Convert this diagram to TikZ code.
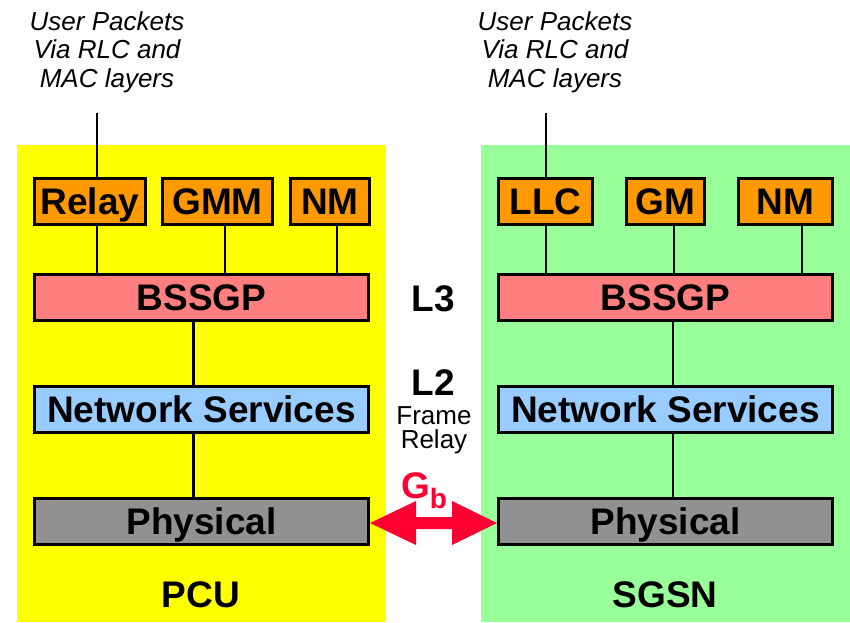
\documentclass[tikz,border=0pt]{standalone}
\usepackage{fontspec}
\setmainfont{Liberation Sans}
\definecolor{pcuyellow}{HTML}{FFFF00}
\definecolor{sgsngreen}{HTML}{99FF99}
\definecolor{apporange}{HTML}{FF9900}
\definecolor{bsspink}{HTML}{FF7F7F}
\definecolor{nsblue}{HTML}{99CCFF}
\definecolor{phygray}{HTML}{919191}
\definecolor{gbred}{HTML}{FF0033}
\newcommand\lblfont{\fontsize{37}{40}\selectfont\bfseries}
\newcommand\notefont{\fontsize{26}{28.5}\selectfont\itshape}
\begin{document}
\begin{tikzpicture}[x=1pt,y=-1pt,
  layerbox/.style={draw, line width=3pt, inner sep=0pt, minimum height=46pt,
    text height=26.5pt, text depth=0pt, font=\lblfont},
  appbox/.style={layerbox, fill=apporange},
  bssbox/.style={layerbox, fill=bsspink, minimum width=334pt},
  nsbox/.style={layerbox, fill=nsblue, minimum width=334pt},
  phybox/.style={layerbox, fill=phygray, minimum width=334pt},
  link/.style={line width=2.6pt},
  note/.style={font=\notefont, align=center, inner sep=0pt},
  plain/.style={inner sep=0pt, anchor=base}]
\useasboundingbox (0,0) rectangle (850,622);

% node backgrounds
\fill[pcuyellow] (17,145) rectangle (386,622);
\fill[sgsngreen] (481,145) rectangle (850,622);

% PCU stack
\node[appbox, minimum width=111pt] (relay) at (90,201.5) {Relay};
\node[appbox, minimum width=110pt] (gmm) at (217.5,201.5) {GMM};
\node[appbox, minimum width=79pt] (nmL) at (330,201.5) {NM};
\node[bssbox] (bssL) at (201.5,297.5) {BSSGP};
\node[nsbox] (nsL) at (201.5,409.5) {Network Services};
\node[phybox] (phyL) at (201.5,521) {Physical};

% SGSN stack
\node[appbox, minimum width=94pt] (llc) at (545.5,201.5) {LLC};
\node[appbox, minimum width=78pt] (gm) at (665.5,201.5) {GM};
\node[appbox, minimum width=94pt] (nmR) at (785.5,201.5) {NM};
\node[bssbox] (bssR) at (665.5,297.5) {BSSGP};
\node[nsbox] (nsR) at (665.5,409.5) {Network Services};
\node[phybox] (phyR) at (665.5,521) {Physical};

% user plane entry points
\coordinate (upL) at (97,113);
\coordinate (upR) at (546,113);
\node[note] (noteL) at (107,52) {User Packets\\Via RLC and\\MAC layers};
\node[note] (noteR) at (555,52) {User Packets\\Via RLC and\\MAC layers};

% attachment points of the connectors
\coordinate (gmmout) at ([xshift=7.5pt]gmm.south);
\coordinate (nmLout) at ([xshift=7pt]nmL.south);
\coordinate (gmout) at ([xshift=8.5pt]gm.south);
\coordinate (nmRout) at ([xshift=16.5pt]nmR.south);

% connectors, PCU side
\draw[link] (upL) -- (upL |- relay.north);
\draw[link] (relay.south -| upL) -- (bssL.north -| upL);
\draw[link] (gmmout) -- (bssL.north -| gmmout);
\draw[link] (nmLout) -- (bssL.north -| nmLout);
\draw[link] ([xshift=-8pt]bssL.south) -- ([xshift=-8pt]nsL.north);
\draw[link] ([xshift=-8pt]nsL.south) -- ([xshift=-8pt]phyL.north);

% connectors, SGSN side
\draw[link] (upR) -- (upR |- llc.north);
\draw[link] (llc.south -| upR) -- (bssR.north -| upR);
\draw[link] (gmout) -- (bssR.north -| gmout);
\draw[link] (nmRout) -- (bssR.north -| nmRout);
\draw[link] ([xshift=7.5pt]bssR.south) -- ([xshift=7.5pt]nsR.north);
\draw[link] ([xshift=7.5pt]nsR.south) -- ([xshift=7.5pt]phyR.north);

% layer labels between the stacks
\node[plain, font=\lblfont] (l3) at (433.5,311) {L3};
\node[plain, font=\lblfont] (l2) at (433.5,395) {L2};
\node[inner sep=0pt, font=\fontsize{26}{24}\selectfont, align=center, anchor=base] (fr) at (434,448) {Frame\\Relay};

% Gb interface
\fill[gbred] ([yshift=-2pt]phyL.east) -- ++(46,-22) -- ++(0,16) -- ++(36,0) -- ++(0,-16)
  -- ([yshift=-2pt]phyR.west) -- ++(-45,22) -- ++(0,-16) -- ++(-36,0) -- ++(0,16) -- cycle;
\node[inner sep=0pt, anchor=base west, text=gbred, font=\fontsize{37}{40}\selectfont\bfseries]
  (gb) at (401,498) {G\raisebox{-10pt}{\fontsize{28}{30}\selectfont b}};

% node names
\node[plain, font=\lblfont] (pcu) at (201,607) {PCU};
\node[plain, font=\lblfont] (sgsn) at (665,607) {SGSN};
\end{tikzpicture}
\end{document}
